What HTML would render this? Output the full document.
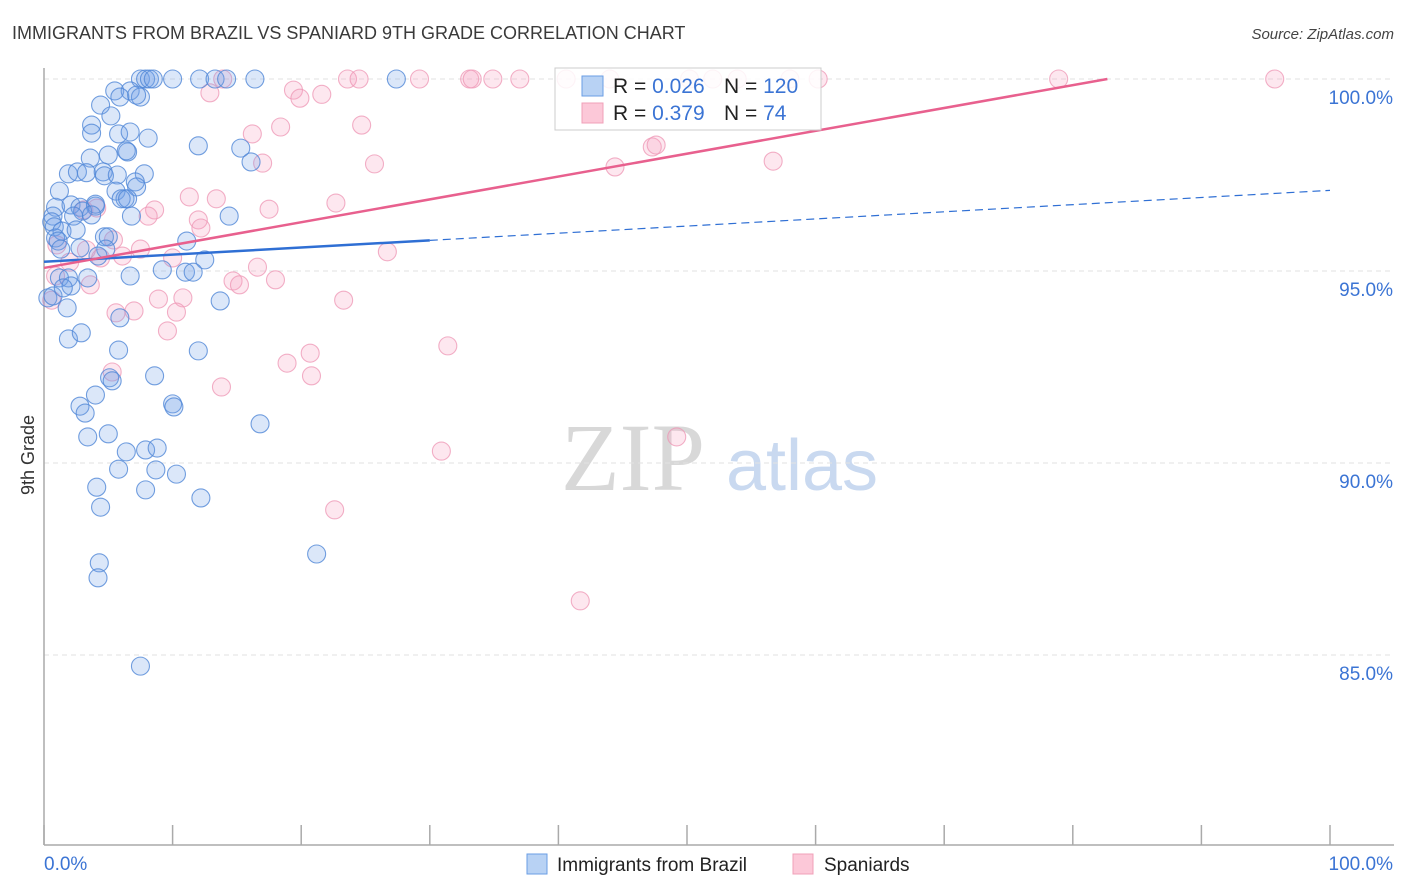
<!DOCTYPE html>
<html><head><meta charset="utf-8"><style>
body{margin:0;background:#fff;font-family:"Liberation Sans",sans-serif;}
svg{display:block}
</style></head><body>
<svg id="chart" width="1406" height="892" xmlns="http://www.w3.org/2000/svg">
<text x="12" y="39" font-size="18" fill="#3a3a3a">IMMIGRANTS FROM BRAZIL VS SPANIARD 9TH GRADE CORRELATION CHART</text>
<text x="1394" y="39" font-size="15" fill="#444" font-style="italic" text-anchor="end">Source: ZipAtlas.com</text>
<g>
<text x="633" y="490" font-size="96" fill="#d8d8d8" font-family="Liberation Serif,serif" text-anchor="middle">ZIP</text>
<text x="802" y="490" font-size="72" fill="#c9d9f0" text-anchor="middle">atlas</text>
</g>
<g id="grid"></g>
<line x1="44" y1="68" x2="44" y2="845" stroke="#aaa" stroke-width="1.5"/>
<line x1="44" y1="845" x2="1394" y2="845" stroke="#aaa" stroke-width="1.5"/>
<g id="xticks"></g>
<g id="ylabels"></g>
<text x="44" y="870" font-size="19" fill="#3b74d4">0.0%</text>
<text x="1393" y="870" font-size="19" fill="#3b74d4" text-anchor="end">100.0%</text>
<text transform="translate(34,455) rotate(-90)" font-size="18" fill="#333" text-anchor="middle">9th Grade</text>
<g id="pink"></g>
<g id="blue"></g>
<g id="trends"></g>
<g>
<rect x="555" y="68" width="266" height="62" fill="rgba(255,255,255,0.85)" stroke="#ccc"/>
<rect x="582" y="76" width="21" height="20" fill="#b8d2f4" stroke="#6a9ee4"/>
<rect x="582" y="103" width="21" height="20" fill="#fcc8d8" stroke="#f0a0b8"/>
<text x="613" y="93" font-size="21" fill="#222">R = <tspan fill="#3b74d4">0.026</tspan></text>
<text x="724" y="93" font-size="21" fill="#222">N = <tspan fill="#3b74d4">120</tspan></text>
<text x="613" y="120" font-size="21" fill="#222">R = <tspan fill="#3b74d4"> 0.379</tspan></text>
<text x="724" y="120" font-size="21" fill="#222">N = <tspan fill="#3b74d4">  74</tspan></text>
</g>
<g>
<rect x="527" y="854" width="20" height="20" fill="#b8d2f4" stroke="#6a9ee4"/>
<text x="557" y="871" font-size="19" fill="#222">Immigrants from Brazil</text>
<rect x="793" y="854" width="20" height="20" fill="#fcc8d8" stroke="#f0a0b8"/>
<text x="824" y="871" font-size="19" fill="#222">Spaniards</text>
</g>
</svg>
<script>
const yTicks=[100,95,90,85];
const yTickLabels=["100.0%","95.0%","90.0%","85.0%"];
const xTicks=[0,10,20,30,40,50,60,70,80,90,100];
const blueX=[7.5,7.9,8.2,8.5,10,12.1,13.3,14.2,16.4,27.4,5.5,6.7,7.5,5.9,4.4,7.2,5.2,3.7,3.7,5.8,6.7,8.1,6.5,5,3.6,6.4,12,15.3,16.1,1.9,2.6,3.3,4.6,4.7,5.7,7.8,7.1,7.2,1.2,5.6,4,6.3,6,6.5,4,0.9,2.1,2.8,3.0,3.7,6.8,14.4,0.7,0.6,0.8,1.4,2.3,2.5,4.7,5,11.1,0.9,1.1,1.3,2.8,4.8,4.2,12.5,1.2,1.9,3.4,2.1,6.7,9.2,11,11.6,13.7,1.8,5.9,0.3,0.7,1.5,1.9,2.9,5.8,12,8.6,5.1,5.3,4,2.8,3.2,10,10.1,16.8,3.4,5,7.9,8.8,6.4,5.8,8.7,10.3,4.1,7.9,12.2,4.4,21.2,4.3,4.2,7.5];
const blueY=[100,100,100,100,100,100,100,100,100,100,99.69,99.69,99.53,99.53,99.32,99.58,99.04,98.8,98.59,98.57,98.62,98.46,98.1,98.02,97.94,98.13,98.26,98.2,97.84,97.53,97.58,97.56,97.58,97.48,97.5,97.53,97.32,97.19,97.08,97.08,96.69,96.88,96.88,96.88,96.74,96.66,96.72,96.66,96.56,96.46,96.43,96.43,96.43,96.28,96.15,96.04,96.43,96.07,95.89,95.89,95.78,95.86,95.78,95.57,95.6,95.57,95.39,95.29,94.82,94.82,94.82,94.61,94.87,95.03,94.97,94.97,94.22,94.04,93.78,94.3,94.35,94.56,93.23,93.39,92.94,92.92,92.27,92.22,92.14,91.77,91.48,91.3,91.54,91.46,91.02,90.68,90.76,90.34,90.39,90.29,89.84,89.82,89.71,89.37,89.3,89.09,88.85,87.63,87.4,87.01,84.71];
const pinkX=[13.9,23.6,24.5,29.2,33.1,33.3,34.9,37.0,40.6,44.0,50.2,52.0,53.9,58.0,60.2,78.9,95.7,12.9,19.4,19.9,21.6,18.4,16.2,24.7,17,25.7,47.3,47.6,44.4,56.7,11.3,13.4,12,12.2,8.6,8.1,17.5,22.7,5.4,7.5,10,4.4,3.3,6.1,26.7,16.6,14.7,15.2,18,3.6,2,0.9,0.6,8.9,10.8,23.3,10.3,7,5.6,9.6,31.4,20.7,18.9,20.8,5.3,13.8,30.9,49.2,22.6,41.7,3.1,4.1,1];
const pinkY=[100,100,100,100,100,100,100,100,100,100,100,100,100,100,100,100,100,99.64,99.71,99.5,99.6,98.75,98.57,98.8,97.81,97.79,98.23,98.28,97.71,97.86,96.93,96.88,96.33,96.12,96.59,96.43,96.61,96.77,95.81,95.57,95.34,95.34,95.55,95.39,95.5,95.1,94.74,94.64,94.77,94.64,95.23,94.87,94.24,94.27,94.3,94.24,93.93,93.96,93.91,93.44,93.05,92.86,92.6,92.27,92.37,91.98,90.31,90.68,88.78,86.41,96.59,96.64,95.68];
const blueTrend=[95.24,0.0186];
const pinkTrend=[95.08,0.0595];

const NS="http://www.w3.org/2000/svg";
const X=v=>44+v*12.86;
const Y=v=>79+(100-v)*38.4;
function mk(tag,attrs,parent){const e=document.createElementNS(NS,tag);for(const k in attrs)e.setAttribute(k,attrs[k]);parent.appendChild(e);return e;}
const grid=document.getElementById('grid'),yl=document.getElementById('ylabels'),xt=document.getElementById('xticks');
yTicks.forEach((t,i)=>{
 const l=mk('line',{x1:44,x2:1394,y1:Y(t),y2:Y(t),stroke:'#e2e2e2','stroke-dasharray':'5,4'},grid);
 
 
 const tx=mk('text',{x:1393,y:Y(t)+25,'font-size':19,fill:'#3b74d4','text-anchor':'end'},yl);
 tx.textContent=yTickLabels[i];
 
 
});
xTicks.forEach(t=>{
 const l=mk('line',{x1:X(t),x2:X(t),y1:825,y2:845,stroke:'#aaa','stroke-width':1.5},xt);
 
 
});
const pg=document.getElementById('pink'),bg=document.getElementById('blue');
pinkX.forEach((v,i)=>{
 const c=mk('circle',{cx:X(v),cy:Y(pinkY[i]),r:9,fill:'rgba(246,160,190,0.25)',stroke:'rgba(238,150,180,0.75)','stroke-width':1.1},pg);
 
 
});
blueX.forEach((v,i)=>{
 const c=mk('circle',{cx:X(v),cy:Y(blueY[i]),r:9,fill:'rgba(110,160,230,0.25)',stroke:'rgba(80,135,215,0.8)','stroke-width':1.1},bg);
 
 
});
const tg=document.getElementById('trends');
const bt=v=>blueTrend[0]+blueTrend[1]*v, pt=v=>pinkTrend[0]+pinkTrend[1]*v;
let l=mk('line',{x1:X(0),y1:Y(bt(0)),x2:X(30),y2:Y(bt(30)),stroke:'#2f6fd4','stroke-width':2.5},tg);


l=mk('line',{x1:X(30),y1:Y(bt(30)),x2:X(100),y2:Y(bt(100)),stroke:'#2f6fd4','stroke-width':1.2,'stroke-dasharray':'8,5'},tg);


const pEnd=(100-pinkTrend[0])/pinkTrend[1];
l=mk('line',{x1:X(0),y1:Y(pt(0)),x2:X(pEnd),y2:Y(pt(pEnd)),stroke:'#e8608e','stroke-width':2.5},tg);


</script>
</body></html>
